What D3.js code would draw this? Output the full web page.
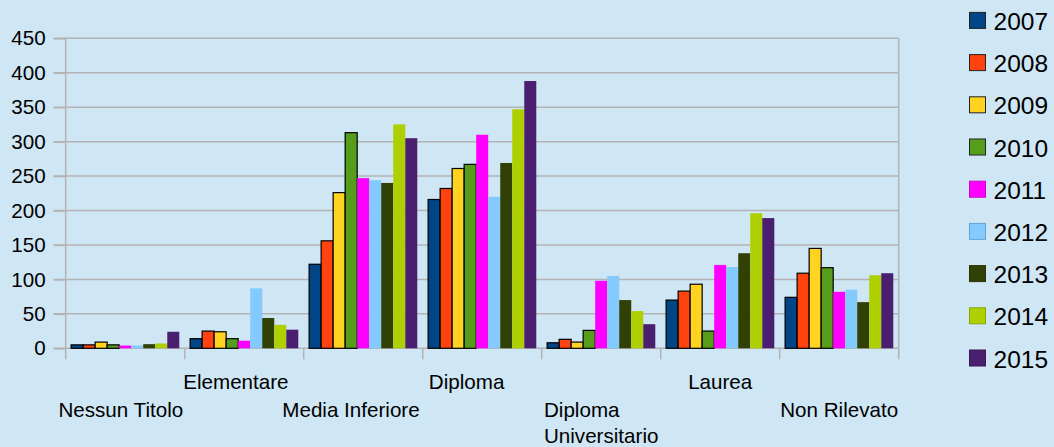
<!DOCTYPE html>
<html>
<head>
    <meta charset="utf-8">
    <title>Titolo di studio</title>
    <script src="https://cdn.jsdelivr.net/npm/d3@7"></script>
    <style>
        body { margin: 0; background: #cfe6f4; }
        text { font-family: "Liberation Sans", Arial, sans-serif; fill: #000; }
    </style>
</head>
<body>
    <script>
        var categories = ["Nessun Titolo", "Elementare", "Media Inferiore", "Diploma",
                          "Diploma Universitario", "Laurea", "Non Rilevato"];
        var categoryLines = [["Nessun Titolo"], ["Elementare"], ["Media Inferiore"], ["Diploma"],
                             ["Diploma", "Universitario"], ["Laurea"], ["Non Rilevato"]];
        var years = ["2007", "2008", "2009", "2010", "2011", "2012", "2013", "2014", "2015"];
        var colors = ["#004586", "#ff420e", "#ffd320", "#579d1c", "#ff00ff",
                      "#83caff", "#314004", "#aecf00", "#4b1f6f"];
        var yTicks = [0, 50, 100, 150, 200, 250, 300, 350, 400, 450];

        // one array per year, in category order
        var v2007 = [5, 14, 122, 216, 8, 70, 74];
        var v2008 = [5, 25, 156, 232, 13, 83, 109];
        var v2009 = [9, 24, 226, 261, 9, 93, 145];
        var v2010 = [5, 14, 313, 267, 26, 25, 117];
        var v2011 = [4, 11, 247, 310, 98, 121, 82];
        var v2012 = [4, 87, 244, 220, 105, 118, 85];
        var v2013 = [6, 44, 240, 269, 70, 138, 67];
        var v2014 = [7, 34, 325, 347, 54, 196, 106];
        var v2015 = [24, 27, 305, 388, 35, 189, 109];
        var series = [v2007, v2008, v2009, v2010, v2011, v2012, v2013, v2014, v2015];

        var width = 1054, height = 447;
        var plotL = 65.7, plotR = 898.7, plotT = 38.3, plotB = 348.3;
        var bordered = ["2007", "2008", "2009", "2010"];
        var labelShift = [-4.4, -8.3, -12.2, -15.6, 0, 0, 0];   // LibreOffice nudges the first labels left

        var svg = d3.select("body").append("svg")
            .attr("width", width)
            .attr("height", height);

        var x = d3.scaleBand().domain(categories).range([plotL, plotR]);
        var x1 = d3.scaleBand().domain(years).range([0, x.bandwidth()]).paddingOuter(0.45);
        var y = d3.scaleLinear().domain([0, 450]).range([plotB, plotT]);
        var color = d3.scaleOrdinal().domain(years).range(colors);

        // gridlines
        svg.append("g").selectAll("line")
            .data(yTicks)
            .enter().append("line")
            .attr("x1", plotL - 12).attr("x2", plotR)
            .attr("y1", function(d) { return y(d); })
            .attr("y2", function(d) { return y(d); })
            .attr("stroke", "#b3b3b3").attr("stroke-width", 1.5);

        // y axis labels
        var yAxis = svg.append("g")
            .attr("transform", "translate(" + plotL + ",0)")
            .call(d3.axisLeft(y).tickValues(yTicks).tickSize(12).tickPadding(8));
        yAxis.select(".domain").remove();
        yAxis.selectAll("line").attr("stroke", "#b3b3b3").attr("stroke-width", 1.5);
        yAxis.selectAll("text").style("font-size", "20.6px").attr("fill", "#000")
            .style("font-family", "'Liberation Sans', Arial, sans-serif");

        // vertical boundaries: left axis, category ticks, right edge
        var bounds = categories.map(function(c) { return x(c); }).concat([plotR]);
        svg.append("g").selectAll("line")
            .data(bounds)
            .enter().append("line")
            .attr("x1", function(d) { return d; })
            .attr("x2", function(d) { return d; })
            .attr("y1", function(d, i) { return (i === 0 || i === bounds.length - 1) ? plotT : plotB; })
            .attr("y2", plotB + 11)
            .attr("stroke", "#b3b3b3").attr("stroke-width", 1.5);

        // bars
        var groups = svg.append("g").selectAll("g")
            .data(years)
            .enter().append("g")
            .attr("fill", function(d) { return color(d); });

        groups.selectAll("rect")
            .data(function(yr, j) {
                return series[j].map(function(v, i) { return {year: yr, cat: categories[i], value: v}; });
            })
            .enter().append("rect")
            .attr("x", function(d) { return x(d.cat) + x1(d.year); })
            .attr("y", function(d) { return y(d.value); })
            .attr("width", x1.bandwidth())
            .attr("height", function(d) { return plotB - y(d.value); })
            .attr("stroke", function(d) { return bordered.indexOf(d.year) >= 0 ? "#000" : "none"; })
            .attr("stroke-width", 1.2);

        // category labels, staggered on two rows
        var labels = svg.append("g").selectAll("text")
            .data(categoryLines)
            .enter().append("text")
            .style("font-size", "20.6px")
            .attr("text-anchor", "start");

        labels.each(function(lines, i) {
            var t = d3.select(this);
            var baseY = i % 2 === 1 ? 388.5 : 417;
            lines.forEach(function(line, k) {
                t.append("tspan").attr("y", baseY + k * 26.3).text(line);
            });
            var w = 0;
            t.selectAll("tspan").each(function() { w = Math.max(w, this.getComputedTextLength()); });
            var cx = x(categories[i]) + x.bandwidth() / 2 + labelShift[i];
            t.selectAll("tspan").attr("x", cx - w / 2);
        });

        // legend
        var legend = svg.append("g").selectAll("g")
            .data(years)
            .enter().append("g")
            .attr("transform", function(d, i) { return "translate(969.5," + (20.4 + i * 42.2) + ")"; });

        legend.append("rect")
            .attr("x", 0).attr("y", -8)
            .attr("width", 16).attr("height", 16)
            .attr("fill", function(d) { return color(d); })
            .attr("stroke", function(d) { return bordered.indexOf(d) >= 0 ? "#222" : d3.color(color(d)).darker(0.6); })
            .attr("stroke-width", 1);

        legend.append("text")
            .attr("x", 24)
            .attr("y", 9.5)
            .style("font-size", "24.5px")
            .text(function(d) { return d; });
    </script>
</body>
</html>
